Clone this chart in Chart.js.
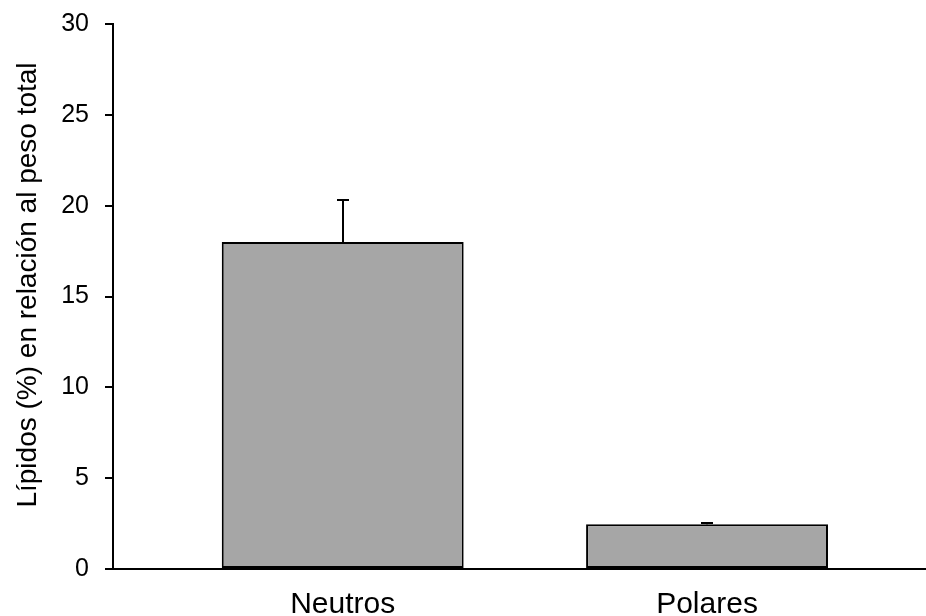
<!DOCTYPE html>
<html>
<head>
<meta charset="utf-8">
<script src="https://cdn.jsdelivr.net/npm/chart.js@4.4.1/dist/chart.umd.min.js"></script>
<style>
  html, body { margin: 0; padding: 0; background: #ffffff; }
  #wrap { width: 926px; height: 616px; position: relative; }
</style>
</head>
<body>
<div id="wrap"><canvas id="chart" width="926" height="616"></canvas></div>
<script>
// Lipid fractions as percent of total weight
const categories = ['Neutros', 'Polares'];
const lipidValues = [18.0, 2.46];
const lipidErrors = [2.3, 0.06];   // upper error (SD)
const yTicks = [0, 5, 10, 15, 20, 25, 30];
const yTitle = 'Lípidos (%) en relación al peso total';

const FONT = '"Liberation Sans", Arial, Helvetica, sans-serif';

// one-sided (upward) error bars drawn from the bar scale values
const errorBars = {
  id: 'errorBars',
  afterDatasetsDraw(chart) {
    const { ctx, scales: { x, y } } = chart;
    ctx.save();
    ctx.strokeStyle = '#000000';
    ctx.lineWidth = 2;
    lipidValues.forEach((v, i) => {
      const px = Math.round(x.getPixelForValue(i));
      const y0 = y.getPixelForValue(v);
      const y1 = Math.round(y.getPixelForValue(v + lipidErrors[i]));
      ctx.beginPath();
      ctx.moveTo(px, y0);
      ctx.lineTo(px, y1);
      ctx.moveTo(px - 6, y1);
      ctx.lineTo(px + 6, y1);
      ctx.stroke();
    });
    ctx.restore();
  }
};

// rotated y-axis title
const axisTitle = {
  id: 'axisTitle',
  afterDraw(chart) {
    const { ctx } = chart;
    ctx.save();
    ctx.translate(36, 285);
    ctx.rotate(-Math.PI / 2);
    ctx.fillStyle = '#000000';
    ctx.font = '28px ' + FONT;
    ctx.textAlign = 'center';
    ctx.textBaseline = 'alphabetic';
    ctx.fillText(yTitle, 0, 0);
    ctx.restore();
  }
};

new Chart(document.getElementById('chart'), {
  type: 'bar',
  data: {
    datasets: [{
      data: lipidValues.map((v, i) => ({ x: i, y: v })),
      backgroundColor: '#a6a6a6',
      borderColor: '#000000',
      borderWidth: 2,
      borderSkipped: false,
      barPercentage: 0.664,
      categoryPercentage: 1.0
    }]
  },
  options: {
    responsive: false,
    animation: false,
    devicePixelRatio: 1,
    layout: { padding: { top: 24, right: 0, left: 0, bottom: 0 } },
    plugins: { legend: { display: false }, tooltip: { enabled: false } },
    scales: {
      x: {
        type: 'linear',
        min: -0.6305,
        max: 1.601,
        offset: false,
        afterBuildTicks(scale) {
          scale.ticks = categories.map((c, i) => ({ value: i }));
        },
        afterFit(scale) {
          scale.height = 47;
          scale.paddingLeft = 0;
          scale.paddingRight = 0;
        },
        ticks: {
          callback: (v) => categories[v],
          color: '#000000',
          font: { family: FONT, size: 30 },
          padding: 18,
          maxRotation: 0,
          autoSkip: false
        },
        grid: { display: false, drawTicks: false },
        border: { display: true, color: '#000000', width: 2 }
      },
      y: {
        min: 0,
        max: 30,
        afterBuildTicks(scale) {
          scale.ticks = yTicks.map(v => ({ value: v }));
        },
        afterFit(scale) {
          scale.width = 113;
          scale.paddingTop = 0;
          scale.paddingBottom = 0;
        },
        ticks: {
          color: '#000000',
          font: { family: FONT, size: 25 },
          padding: 16
        },
        grid: {
          display: true,
          drawOnChartArea: false,
          drawTicks: true,
          tickLength: 8,
          color: '#000000',
          lineWidth: 2
        },
        border: { display: true, color: '#000000', width: 2 }
      }
    }
  },
  plugins: [errorBars, axisTitle]
});
</script>
</body>
</html>
